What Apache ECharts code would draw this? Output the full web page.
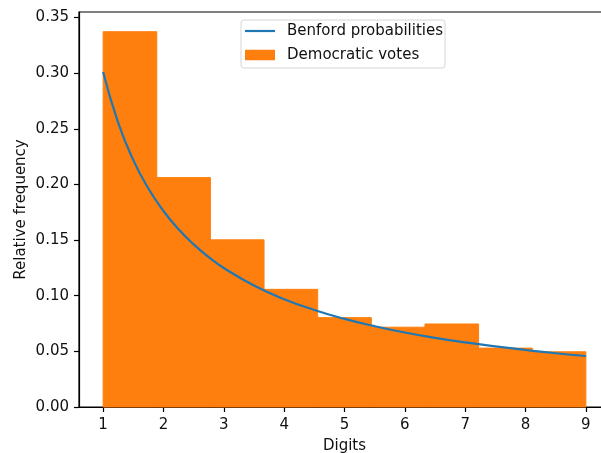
<!DOCTYPE html>
<html>
<head>
<meta charset="utf-8">
<script src="https://cdn.jsdelivr.net/npm/echarts@6/dist/echarts.min.js"></script>
<style>
  html, body { margin: 0; padding: 0; background: #fff; }
  #chart { width: 601px; height: 453px; }
</style>
</head>
<body>
<div id="chart"></div>
<script>
// Histogram of leading digits (density) against Benford's law
const digitTicks = [1, 2, 3, 4, 5, 6, 7, 8, 9];
const freqTicks = [0, 0.05, 0.10, 0.15, 0.20, 0.25, 0.30, 0.35];

// Nine equal-width bins spanning digits 1..9
const binEdges = [1, 1.8889, 2.7778, 3.6667, 4.5556, 5.4444, 6.3333, 7.2222, 8.1111, 9];
const democraticDensity = [0.3372, 0.2061, 0.1502, 0.1057, 0.0803, 0.0717, 0.0746, 0.0529, 0.0496];

// Benford probability curve
const benfordX = [1, 1.25, 1.5, 1.75, 2, 2.25, 2.5, 2.75, 3, 3.5, 4, 4.5, 5, 5.5, 6, 6.5, 7, 7.5, 8, 8.5, 9];
const benfordY = [0.3010, 0.2553, 0.2218, 0.1963, 0.1761, 0.1597, 0.1461, 0.1347, 0.1249,
                  0.1091, 0.0969, 0.0872, 0.0792, 0.0726, 0.0669, 0.0621, 0.0580, 0.0544,
                  0.0512, 0.0483, 0.0458];

const FONT = 'DejaVu Sans';
const FS = 15;
const TEXT = '#111';
const ORANGE = '#ff7f0e';
const BLUE = '#1f77b4';

const histData = democraticDensity.map((h, i) => [binEdges[i], binEdges[i + 1], h]);
const lineData = benfordX.map((x, i) => [x, benfordY[i]]);

const chart = echarts.init(document.getElementById('chart'), null, { renderer: 'canvas' });

chart.setOption({
  animation: false,
  backgroundColor: '#ffffff',
  textStyle: { fontFamily: FONT },
  grid: {
    left: 79, top: 12, width: 531, height: 395,
    outerBoundsMode: 'none', containLabel: false,
    show: true, borderColor: '#000', borderWidth: 1.2, backgroundColor: 'transparent'
  },
  legend: {
    orient: 'vertical',
    left: 241, top: 20,
    padding: [3.5, 2, 5.5, 4],
    itemWidth: 30, itemHeight: 10.5, itemGap: 9,
    backgroundColor: 'rgba(255,255,255,0.8)',
    borderColor: '#d6d6d6', borderWidth: 1, borderRadius: 3,
    textStyle: { fontFamily: FONT, fontSize: FS, color: TEXT, lineHeight: 15, padding: [0, 0, 0, 7] },
    data: [
      { name: 'Benford probabilities', icon: 'path://M0,4 H30 V6.2 H0 Z', itemStyle: { color: BLUE } },
      { name: 'Democratic votes', icon: 'rect', itemStyle: { color: ORANGE } }
    ]
  },
  xAxis: {
    type: 'value',
    min: 0.6, max: 9.4,
    name: 'Digits', nameLocation: 'middle', nameGap: 32, nameMoveOverlap: false,
    nameTextStyle: { fontFamily: FONT, fontSize: FS, color: TEXT },
    splitLine: { show: false },
    axisLine: { show: true, lineStyle: { color: '#000', width: 1.2 } },
    axisTick: { show: true, length: 5, lineStyle: { color: '#000', width: 1.2 }, customValues: digitTicks },
    axisLabel: { fontFamily: FONT, fontSize: FS, color: TEXT, margin: 11, customValues: digitTicks,
                 formatter: v => String(v) }
  },
  yAxis: {
    type: 'value',
    min: 0, max: 0.3549,
    name: 'Relative frequency', nameLocation: 'middle', nameGap: 50, nameMoveOverlap: false,
    nameTextStyle: { fontFamily: FONT, fontSize: FS, color: TEXT },
    splitLine: { show: false },
    axisLine: { show: true, lineStyle: { color: '#000', width: 1.2 } },
    axisTick: { show: true, length: 5, lineStyle: { color: '#000', width: 1.2 }, customValues: freqTicks },
    axisLabel: { fontFamily: FONT, fontSize: FS, color: TEXT, margin: 10, customValues: freqTicks,
                 formatter: v => v.toFixed(2) }
  },
  series: [
    {
      name: 'Democratic votes',
      type: 'custom',
      z: 2,
      itemStyle: { color: ORANGE },
      encode: { x: [0, 1], y: 2 },
      data: histData,
      renderItem: function (params, api) {
        const p0 = api.coord([api.value(0), api.value(2)]);
        const p1 = api.coord([api.value(1), 0]);
        return {
          type: 'rect',
          shape: { x: p0[0], y: p0[1], width: p1[0] - p0[0], height: p1[1] - p0[1] },
          style: { fill: ORANGE, stroke: ORANGE, lineWidth: 1 }
        };
      }
    },
    {
      name: 'Benford probabilities',
      type: 'line',
      z: 3,
      data: lineData,
      symbol: 'none',
      smooth: true,
      color: BLUE,
      lineStyle: { color: BLUE, width: 2.2 }
    }
  ]
});
</script>
</body>
</html>
